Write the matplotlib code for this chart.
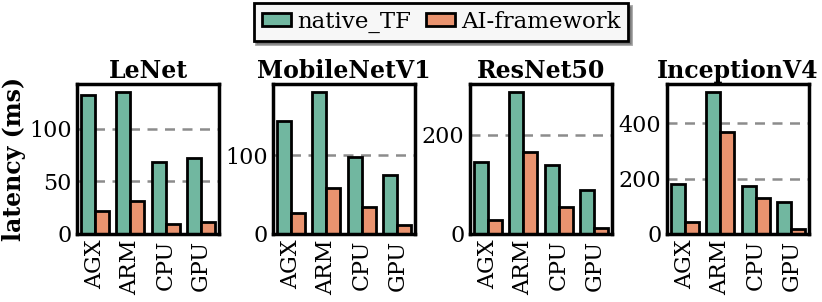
import numpy as np
import matplotlib
matplotlib.use("Agg")
import matplotlib.pyplot as plt
from matplotlib.patches import Patch

plt.rcParams["font.family"] = "DejaVu Serif"

devices = ["AGX", "ARM", "CPU", "GPU"]
models = ["LeNet", "MobileNetV1", "ResNet50", "InceptionV4"]

native_tf = {
    "LeNet":       [132, 135, 68, 72],
    "MobileNetV1": [144, 181, 98, 75],
    "ResNet50":    [145, 287, 140, 89],
    "InceptionV4": [182, 514, 172, 115],
}
ai_framework = {
    "LeNet":       [22, 31, 9.5, 11],
    "MobileNetV1": [27, 58, 34, 11.5],
    "ResNet50":    [28, 166, 54, 13],
    "InceptionV4": [45, 370, 130, 19],
}
yticks = {
    "LeNet":       [0, 50, 100],
    "MobileNetV1": [0, 100],
    "ResNet50":    [0, 200],
    "InceptionV4": [0, 200, 400],
}

GREEN = "#71b7a0"
ORANGE = "#e9936f"

fig = plt.figure(figsize=(8.22, 3.02), dpi=100)
W, H = 822, 302
lefts = [77, 273, 470, 667]
ax_w, top, bottom = 142, 84, 234

x = np.arange(len(devices))
bw = 0.4
for left, m in zip(lefts, models):
    ax = fig.add_axes([left / W, 1 - bottom / H, ax_w / W, (bottom - top) / H])
    ax.bar(x - bw / 2, native_tf[m], bw, color=GREEN, edgecolor="black", linewidth=2)
    ax.bar(x + bw / 2, ai_framework[m], bw, color=ORANGE, edgecolor="black", linewidth=2)
    ymax = max(native_tf[m] + ai_framework[m]) * 1.055
    ax.set_ylim(0, ymax)
    ax.set_xlim(-0.5, 3.5)
    ax.set_yticks(yticks[m])
    ax.set_xticks(x)
    ax.set_xticklabels(devices, rotation=90)
    ax.tick_params(length=0, labelsize=16, pad=4)
    ax.yaxis.grid(True, linestyle="--", color="#8c8c8c", linewidth=1.8, dashes=(4, 3))
    ax.set_axisbelow(True)
    for s in ax.spines.values():
        s.set_linewidth(2.5)
    ax.set_title(m, fontsize=17, fontweight="bold", pad=4)
    if m == "LeNet":
        ax.set_ylabel("latency (ms)", fontsize=17, fontweight="bold", labelpad=2)

handles = [Patch(facecolor=GREEN, edgecolor="black", linewidth=2, label="native_TF"),
           Patch(facecolor=ORANGE, edgecolor="black", linewidth=2, label="AI-framework")]
leg = fig.legend(handles=handles, loc="center", bbox_to_anchor=(441 / W, 1 - 22 / H),
                 ncol=2, fontsize=16.5, fancybox=False, shadow=True, frameon=True,
                 handlelength=1.27, handleheight=0.5, handletextpad=0.26,
                 columnspacing=0.65, borderpad=0.35, borderaxespad=0,
                 edgecolor="black", facecolor="#f7f7f7", framealpha=1)
leg.get_frame().set_linewidth(2)

fig.savefig("out.png", dpi=100)
